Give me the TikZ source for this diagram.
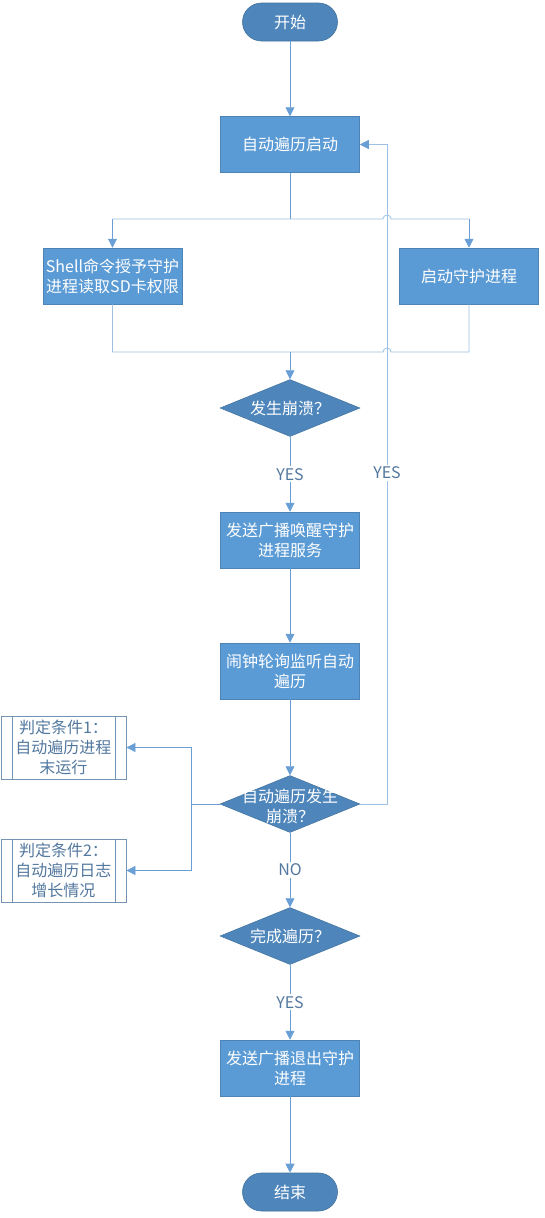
\documentclass[tikz,border=0pt]{standalone}
\usepackage{fontspec}
\setmainfont{Noto Sans CJK SC}
\usetikzlibrary{arrows.meta,shapes.geometric,calc}
\definecolor{procblue}{HTML}{5B9BD5}
\definecolor{darkblue}{HTML}{4E86BC}
\definecolor{edgeblue}{HTML}{41719C}
\definecolor{linkblue}{HTML}{6A9FD6}
\definecolor{lightlink}{HTML}{9DC0E4}
\definecolor{textblue}{HTML}{53789F}
\begin{document}
\begin{tikzpicture}[x=1pt,y=-1pt,
  every node/.style={font=\fontsize{16pt}{20pt}\selectfont, align=center},
  term/.style={rectangle, rounded corners=19pt, minimum width=95pt, minimum height=38pt, fill=darkblue, draw=edgeblue, line width=0.6pt, text=white, inner sep=0pt},
  proc/.style={rectangle, minimum width=139pt, minimum height=56pt, fill=procblue, draw=procblue!85!black, line width=0.5pt, text=white, inner sep=0pt},
  dia/.style={diamond, minimum width=140pt, minimum height=57pt, fill=darkblue, draw=edgeblue, line width=0.5pt, inner sep=0pt},
  dtext/.style={text=white, inner sep=0pt},
  pre/.style={rectangle, minimum width=125pt, minimum height=63pt, fill=white, draw=textblue!80, line width=0.8pt, text=textblue, inner sep=0pt},
  lab/.style={fill=white, text=textblue, inner sep=2pt},
  tip/.style={-{Triangle[length=9pt,width=9pt,color=linkblue]}},
  arr/.style={draw=linkblue, line width=0.8pt, tip},
  ln/.style={draw=linkblue, line width=0.8pt},
  lt/.style={draw=lightlink, line width=0.8pt}
]
\useasboundingbox (0,0) rectangle (544,1218);

\node[term] (start) at (290,22) {开始};
\node[proc] (r1) at (290,144.5) {自动遍历启动};
\node[proc] (pl) at (112.5,276) {Shell命令授予守护\\进程读取SD卡权限};
\node[proc] (pr) at (469,276) {启动守护进程};
\node[dia, label={[dtext]center:发生崩溃？}] (d1) at (290,408) {};
\node[proc] (r2) at (290,540) {发送广播唤醒守护\\进程服务};
\node[proc] (r3) at (290,671) {闹钟轮询监听自动\\遍历};
\node[dia, label={[dtext, yshift=-2pt]center:自动遍历发生\\崩溃？}] (d2) at (290,804) {};
\node[pre] (c1) at (63.5,747.5) {判定条件1：\\自动遍历进程\\末运行};
\node[pre] (c2) at (63.5,870.5) {判定条件2：\\自动遍历日志\\增长情况};
\node[dia, label={[dtext]center:完成遍历？}] (d3) at (290,936) {};
\node[proc] (r4) at (290,1068) {发送广播退出守护\\进程};
\node[term] (end) at (290,1192) {结束};

% predefined process inner lines
\foreach \n in {c1,c2}{
  \draw[textblue!80, line width=0.8pt] ($(\n.north west)+(12,0)$) -- ($(\n.south west)+(12,0)$);
  \draw[textblue!80, line width=0.8pt] ($(\n.north east)+(-11,0)$) -- ($(\n.south east)+(-11,0)$);
}

\coordinate (splitc) at (290,219);
\coordinate (splitl) at (112.5,219);
\coordinate (splitr) at (469,219);
\coordinate (mergec) at (290,352);
\coordinate (mergel) at (112.5,352);
\coordinate (merger) at (469,352);
\coordinate (loopb) at (387,804);
\coordinate (loopt) at (387,144.5);
\coordinate (brc) at (191,804);
\coordinate (br1) at (191,747.5);
\coordinate (br2) at (191,870.5);

% loop back line
\draw[lt, tip] (d2.east) -- (loopb) -- (loopt) -- (r1.east);
\node[lab] (yes2) at (387,473) {YES};

% flow
\draw[arr] (start) -- (r1);
\draw[ln] (r1.south) -- (splitc);
\draw[lt] (splitl) -- (383,219) arc[start angle=180, end angle=0, radius=4pt] -- (splitr);
\draw[arr] (splitl) -- (pl.north);
\draw[arr] (splitr) -- (pr.north);
\draw[lt] (pl.south) -- (mergel) -- (383,352) arc[start angle=180, end angle=0, radius=4pt] -- (merger) -- (pr.south);
\draw[arr] (mergec) -- (d1.north);
\draw[arr] (d1.south) -- node[lab, pos=0.5] (yes1) {YES} (r2.north);
\draw[arr] (r2) -- (r3);
\draw[arr] (r3) -- (d2.north);
\draw[ln] (d2.west) -- (brc);
\draw[arr] (brc) -- (br1) -- (c1.east);
\draw[arr] (brc) -- (br2) -- (c2.east);
\draw[arr] (d2.south) -- node[lab, pos=0.5] (no) {NO} (d3.north);
\draw[arr] (d3.south) -- node[lab, pos=0.5] (yes3) {YES} (r4.north);
\draw[arr] (r4) -- (end);
\end{tikzpicture}
\end{document}
